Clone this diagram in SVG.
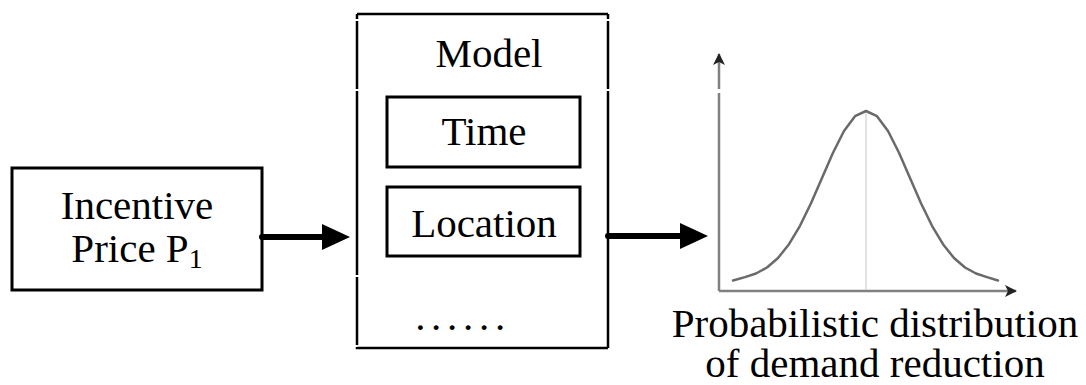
<svg xmlns="http://www.w3.org/2000/svg" width="1086" height="385" viewBox="0 0 1086 385">
  <style>
    .lbl { font-size: 41px; fill: #000; text-anchor: middle; }
    .box { fill: #fff; stroke: #000; stroke-width: 3; }
    .frame { fill: none; stroke: #000; stroke-width: 2.5; }
    .shaft { fill: none; stroke: #000; stroke-width: 6; stroke-linecap: round; }
    .axis { fill: none; stroke: #808080; stroke-width: 2.5; }
  </style>
  <defs>
    <marker id="head" viewBox="0 0 28 28" refX="8" refY="14" markerWidth="28" markerHeight="28" markerUnits="userSpaceOnUse" orient="auto">
      <path d="M0,1 L28,14 L0,27 Z" fill="#000"/>
    </marker>
    <marker id="axhead" viewBox="0 0 12 12" refX="11" refY="6" markerWidth="12" markerHeight="12" markerUnits="userSpaceOnUse" orient="auto">
      <path d="M0,0 L12,6 L0,12 L3,6 Z" fill="#222"/>
    </marker>
  </defs>

  <g font-family="'Liberation Serif', 'DejaVu Serif', serif">
  <!-- input block -->
  <g id="incentive">
    <rect class="box" x="12" y="168" width="250" height="122"/>
    <text class="lbl" x="137" y="219">Incentive</text>
    <text class="lbl" x="137" y="262">Price P<tspan font-size="28" dy="6">1</tspan></text>
  </g>

  <!-- model container with its factor boxes -->
  <g id="model">
    <path class="frame" d="M357,14 H608 M357,14 V19 M357,21 V89 M357,91 V275 M357,277 V345 M357,347 V348 H608 M608,14 V19 M608,21 V89 M608,91 V348"/>
    <text class="lbl" x="489" y="67">Model</text>
  </g>
  <g id="time">
    <rect class="box" x="387" y="97" width="193" height="70"/>
    <text class="lbl" x="484" y="145">Time</text>
  </g>
  <g id="location">
    <rect class="box" x="387" y="187" width="193" height="69"/>
    <text class="lbl" x="484" y="237">Location</text>
  </g>
  <g id="more">
    <text class="lbl" x="463" y="330" letter-spacing="5.7">......</text>
  </g>

  <!-- output distribution plot -->
  <g id="distribution">
    <path class="axis" d="M719,291 V93 M719,89 V54" marker-end="url(#axhead)"/>
    <path class="axis" d="M719,291 H1016" marker-end="url(#axhead)"/>
    <line x1="866" y1="112" x2="866" y2="290" stroke="#c8c8c8" stroke-width="1"/>
    <path fill="none" stroke="#6a6a6a" stroke-width="2.5" stroke-linejoin="round" stroke-linecap="round"
      d="M733,280.5 L745,277.1 L756,273.5 L767,267.5 L778,258 L789,244.2 L800,225.8 L811,203.2 L822,177.9 L833,152.7 L844,131 L855,116.2 L866,111 L877,116.2 L888,131 L899,152.7 L910,177.9 L921,203.2 L932,225.8 L943,244.2 L954,258 L965,267.5 L976,273.5 L987,277.1 L998,280.5"/>
    <text class="lbl" x="875" y="337">Probabilistic distribution</text>
    <text class="lbl" x="875" y="377">of demand reduction</text>
  </g>
  </g>

  <!-- connectors -->
  <g id="connectors">
    <path class="shaft" d="M262,237 H330" marker-end="url(#head)"/>
    <path class="shaft" d="M608,236 H688" marker-end="url(#head)"/>
  </g>
</svg>
